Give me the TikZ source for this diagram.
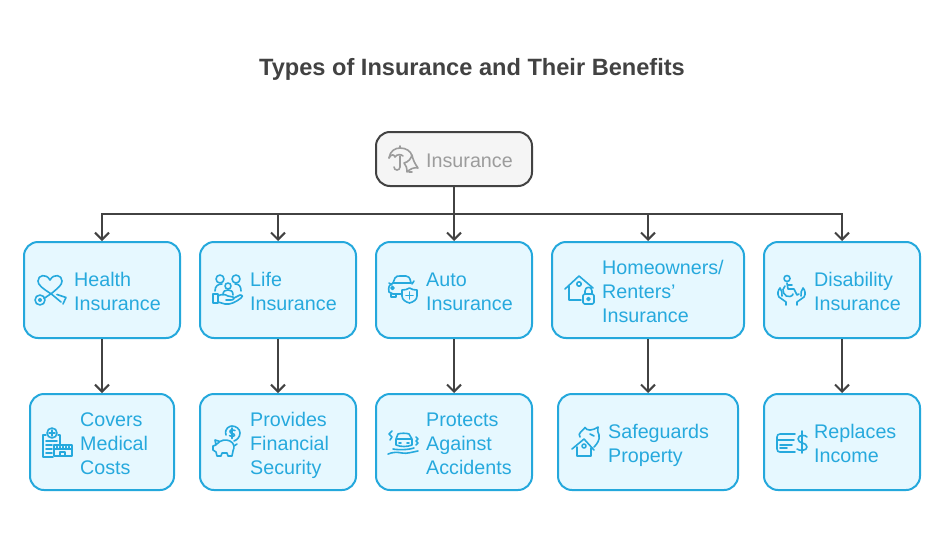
\documentclass[tikz,border=0pt]{standalone}
\usepackage{fontspec}
\setmainfont{Liberation Sans}
\usetikzlibrary{arrows.meta}
\definecolor{ink}{HTML}{424242}
\definecolor{blueline}{HTML}{24A8DC}
\definecolor{bluefill}{HTML}{E6F8FF}
\definecolor{bluetext}{HTML}{26A9DD}
\definecolor{rootfill}{HTML}{F5F5F5}
\definecolor{greytext}{HTML}{9C9C9C}
\tikzset{
  x=1pt,y=-1pt,
  card/.style={draw=blueline,fill=bluefill,line width=2pt,rounded corners=14pt,inner sep=0pt},
  rootcard/.style={card,draw=ink,fill=rootfill},
  lbl/.style={anchor=west,align=left,text=bluetext,inner sep=0pt,font=\fontsize{19.7}{24}\selectfont,
    execute at begin node=\strut,execute at end node=\strut},
  rootlbl/.style={lbl,text=greytext},
  link/.style={draw=ink,line width=2pt,-{Straight Barb[length=7pt,width=14pt,line width=2pt]}},
  trunk/.style={draw=ink,line width=2pt},
  ico/.style={draw=bluetext,line width=1.6pt,line cap=round,line join=round,fill=none},
  rootico/.style={ico,draw=greytext},
}
\newcommand{\cardat}[6]{\node[#6,minimum width=#4pt,minimum height=#5pt] (#1) at (#2,#3) {};}
\begin{document}
\begin{tikzpicture}
\useasboundingbox (0,0) rectangle (944,538);
\fill[white] (0,0) rectangle (944,538);
\node[font=\bfseries\fontsize{23.6}{28}\selectfont,text=ink,inner sep=0pt,anchor=base] (title) at (472,75.5) {Types of Insurance and Their Benefits};

% boxes
\cardat{root}{454}{159}{156}{54}{rootcard}
\cardat{health}{102}{290}{156}{96}{card}
\cardat{life}{278}{290}{156}{96}{card}
\cardat{auto}{454}{290}{156}{96}{card}
\cardat{home}{648}{290}{192}{96}{card}
\cardat{disab}{842}{290}{156}{96}{card}
\cardat{covers}{102}{442}{144}{96}{card}
\cardat{provides}{278}{442}{156}{96}{card}
\cardat{protects}{454}{442}{156}{96}{card}
\cardat{safe}{648}{442}{180}{96}{card}
\cardat{replaces}{842}{442}{156}{96}{card}

% labels
\node[rootlbl] (t0) at (426,163) {Insurance};
\node[lbl] (t1) at (74,295) {Health\\Insurance};
\node[lbl] (t2) at (250,295) {Life\\Insurance};
\node[lbl] (t3) at (426,295) {Auto\\Insurance};
\node[lbl] (t4) at (602,295) {Homeowners/\\Renters'\\Insurance};
\node[lbl] (t5) at (814,295) {Disability\\Insurance};
\node[lbl] (t6) at (80,447) {Covers\\Medical\\Costs};
\node[lbl] (t7) at (250,447) {Provides\\Financial\\Security};
\node[lbl] (t8) at (426,447) {Protects\\Against\\Accidents};
\node[lbl] (t9) at (608,447) {Safeguards\\Property};
\node[lbl] (t10) at (814,447) {Replaces\\Income};

% connectors
\coordinate (bus) at (454,214);
\draw[trunk] (root.south) -- (bus);
\foreach \n in {health,life,auto,home,disab}{
  \draw[link] (bus) -| (\n.north);
}
\draw[link] (health.south) -- (covers.north);
\draw[link] (life.south) -- (provides.north);
\draw[link] (auto.south) -- (protects.north);
\draw[link] (home.south) -- (safe.north);
\draw[link] (disab.south) -- (replaces.north);

% insurance icon
\begin{scope}[rootico]
\draw (389,158) .. controls (390,151) and (395,148) .. (400,148) .. controls (406,148) and (411,151) .. (412,156);
\draw (389,158) .. controls (391,154) and (394,154) .. (395,157) .. controls (397,154) and (401,154) .. (403,156);
\draw (400,148) -- (400,146);
\draw (400,156) -- (400,167) .. controls (400,171) and (394,171) .. (394,167);
\draw (404,163) .. controls (409,162) and (411,158) .. (412,155) .. controls (413,160) and (415,164) .. (418,168) .. controls (414,167) and (410,169) .. (407,172) .. controls (407,168) and (406,165) .. (404,163);
\draw (409,172) -- (412,172);
\end{scope}

% health icon
\begin{scope}[ico]
\draw (44,298.5) -- (52,293) .. controls (58,288) and (62,285) .. (62,281) .. controls (62,275) and (54,273) .. (50,280) .. controls (46,273) and (38,275) .. (38,281) .. controls (38,285) and (42,288) .. (52,294.5) -- (61,302);
\draw (57,294.5) -- (66,297.5) -- (63,304);
\draw (40,300) circle (5);
\fill[bluetext,draw=none] (40,300) circle (2);
\end{scope}

% life icon
\begin{scope}[ico]
\draw (220,279) circle (4);
\draw (236,279) circle (4);
\draw (228,286) circle (3);
\draw (215,291) .. controls (215,286) and (218,284) .. (222,284);
\draw (241,291) .. controls (241,286) and (239,284) .. (235,284);
\draw (223,295) .. controls (223,291) and (225,290) .. (228,290) .. controls (231,290) and (233,291) .. (233,295);
\draw (213,294) rectangle (218,303);
\draw (218,296) .. controls (221,294) and (225,294) .. (228,296) -- (233,297) .. controls (235,298) and (234,300) .. (231,300) -- (226,300);
\draw (234,298) -- (240,295) .. controls (243,295) and (243,297) .. (241,298) .. controls (236,302) and (230,305) .. (225,304) -- (218,302);
\end{scope}

% auto icon
\begin{scope}[ico]
\draw (393,283) -- (395,278) .. controls (396,276) and (398,276) .. (400,276) -- (406,276) .. controls (408,276) and (410,277) .. (411,283);
\draw (393,283) -- (411,283);
\draw (389,283) -- (392,285);
\draw (414,281) -- (412,284);
\draw (402,294) -- (393,294);
\draw (393,283) .. controls (389,285) and (388,287) .. (389,292) -- (393,294);
\draw (391,294) -- (391,297) -- (396,297) -- (396,294);
\draw (392.5,288) circle (1.5);
\draw (409.5,288) .. controls (407,289.5) and (405,290) .. (402,290) -- (402,296) .. controls (402,300) and (406,302) .. (409.5,303) .. controls (413,302) and (417,300) .. (417,296) -- (417,290) .. controls (414,290) and (412,289.5) .. (409.5,288);
\draw (409.5,292) -- (409.5,299);
\draw (406,295.5) -- (413,295.5);
\end{scope}

% home icon
\begin{scope}[ico]
\draw (565,289) -- (579,276) -- (593,288);
\draw (569,286) -- (569,300) -- (581,300);
\draw (579,284) circle (2.2);
\draw[rounded corners=1.5pt] (583,294) rectangle (594,304);
\draw (585,294) -- (585,291) .. controls (585,286) and (592,286) .. (592,291) -- (592,294);
\draw (588.5,299) circle (1.5);
\end{scope}

% disability icon
\begin{scope}[ico]
\draw (787,278.5) circle (3);
\draw (787,283) -- (788,289) -- (794,289) -- (797,295) -- (799,294);
\draw (785,286) .. controls (780,290) and (785,298) .. (790,296.5) .. controls (792,296) and (793,295) .. (793,294);
\draw (788,285) -- (792,285);
\draw (786,305) -- (786,302) -- (779,297) .. controls (777,294) and (778,290) .. (780,288) .. controls (782,290) and (782,293) .. (782,296);
\draw (797,305) -- (797,302) -- (804,297) .. controls (806,294) and (805,290) .. (803,288) .. controls (801,290) and (801,293) .. (801,296);
\end{scope}

% covers icon
\begin{scope}[ico]
\draw (52,433) circle (5);
\draw (52,430) -- (52,436);
\draw (49,433) -- (55,433);
\draw (46,435) -- (43,435) -- (43,457) -- (53,457);
\draw (58,435) -- (60,435) -- (60,444);
\draw (46,441) -- (57,441);
\draw (46,445) -- (52,445);
\draw (46,449) -- (52,449);
\draw (46,453) -- (52,453);
\draw (54,445) rectangle (72,456);
\draw (54,449) -- (72,449);
\draw (57,446.5) -- (57,449);\draw (60,446.5) -- (60,449);\draw (63,446.5) -- (63,449);\draw (66,446.5) -- (66,449);\draw (69,446.5) -- (69,449);
\draw (60,456) -- (60,452) -- (65,452) -- (65,456);
\end{scope}

% provides icon
\begin{scope}[ico]
\draw (226,435) .. controls (224,428) and (230,426) .. (232,426) .. controls (236,426) and (240,429) .. (240,433) .. controls (240,437) and (237,440) .. (234,441);
\draw (235,430.5) .. controls (233,429) and (229.5,429.5) .. (230,432) .. controls (230.5,434) and (235,433) .. (234.5,435.5) .. controls (234,437) and (231,437) .. (229.5,435.5);
\draw (232,428) -- (232,438.5);
\draw (217,444) .. controls (220,440) and (226,439) .. (230,441) .. controls (234,443) and (235,447) .. (233,451) -- (232,456) -- (228,456) -- (227,453) -- (222,453) -- (221,456) -- (217,456) -- (216,452) -- (213,450) -- (213,446) -- (216,445) -- (215,440) -- (220,441.5);
\draw (234,446) -- (237,444);
\end{scope}

% protects icon
\begin{scope}[ico]
\draw (396,445) -- (396,439) -- (398,434) .. controls (400,433) and (407,433) .. (409,434) -- (412,439) -- (412,445) .. controls (407,447) and (401,447) .. (396,445);
\draw (397,439) -- (411,439);
\draw (399,443) -- (401,443);
\draw (407,443) -- (409,443);
\draw (388,454) .. controls (393,452) and (397,452) .. (402,453) .. controls (407,454) and (412,452) .. (418,451);
\draw (393,449) .. controls (398,450) and (408,450) .. (414,448);
\draw (392,431) -- (389,434) -- (392,437) -- (390,440);
\draw (416,437) -- (418,439) -- (416,441) -- (418,443) -- (416,445);
\end{scope}

% safeguards icon
\begin{scope}[ico]
\draw (572,449) -- (584,439) -- (594,450);
\draw (577,447) -- (577,456) -- (591,456) -- (591,448);
\draw (584,446) circle (2);
\draw (580,437) .. controls (577,433) and (583,431) .. (585,427.5) .. controls (587,431) and (592,431) .. (598,427) .. controls (597,430) and (598,433) .. (599,435) .. controls (600,440) and (597,444) .. (594,447);
\draw (590,434) -- (594,436);
\end{scope}

% replaces icon
\begin{scope}[ico]
\draw (795,434) -- (780,434) .. controls (778,434) and (777,435) .. (777,437) -- (777,449) .. controls (777,451) and (778,452) .. (780,452) -- (795,452);
\draw (777,440) -- (794,440);
\draw (780,445) -- (792,445);
\draw (780,448) -- (787,448);
\draw (807,437) .. controls (806,435) and (798,434) .. (798,439) .. controls (798,444) and (807,442) .. (807,447) .. controls (807,451) and (799,451) .. (797,449);
\draw (802,431) -- (802,453);
\end{scope}
\end{tikzpicture}
\end{document}
